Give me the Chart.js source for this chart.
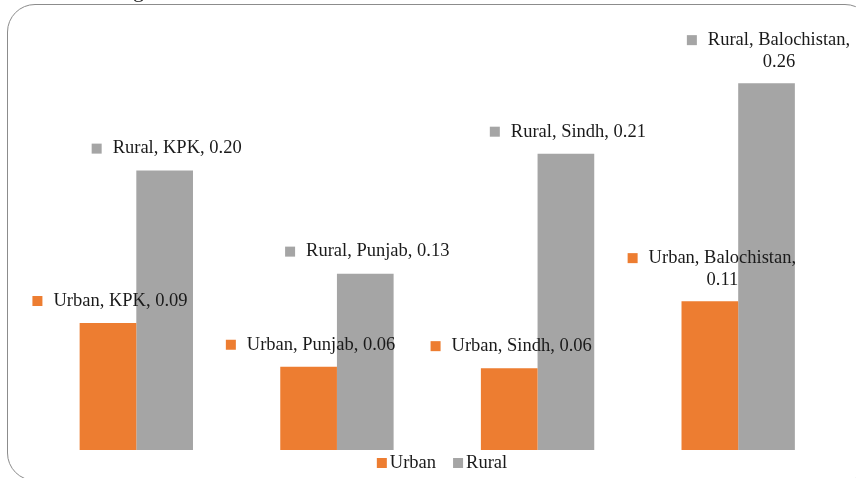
<!DOCTYPE html>
<html>
<head>
<meta charset="utf-8">
<title>Urban vs Rural by province</title>
<script src="https://cdn.jsdelivr.net/npm/chart.js@4"></script>
<style>
  html, body { margin: 0; padding: 0; background: #fff; overflow: hidden; }
  #wrap { position: relative; width: 856px; height: 478px; }
  #frame {
    position: absolute; left: 7px; top: 4px; width: 866px; height: 477px;
    box-sizing: border-box; border: 1.5px solid #8c8c8c; border-radius: 28px;
  }
  #chart { position: absolute; left: 0; top: 0; }
</style>
</head>
<body>
<div id="wrap">
  <div id="frame"></div>
  <canvas id="chart" width="856" height="478"></canvas>
</div>
<script>
// data
const provinces = ["KPK", "Punjab", "Sindh", "Balochistan"];
const urbanValues = [0.09, 0.059, 0.058, 0.1055];
const ruralValues = [0.198, 0.125, 0.21, 0.26];
const seriesNames = ["Urban", "Rural"];

const ORANGE = "#ED7D31";
const GREY = "#A5A5A5";
const FONT = '"Liberation Serif", "Times New Roman", serif';

// Excel style data labels: legend key + "series, category, value", wrap if too long
const dataLabels = {
  id: "dataLabels",
  afterDatasetsDraw(chart) {
    const ctx = chart.ctx;
    ctx.save();
    ctx.font = "18.5px " + FONT;
    ctx.textBaseline = "middle";
    chart.data.datasets.forEach((ds, di) => {
      const meta = chart.getDatasetMeta(di);
      meta.data.forEach((bar, i) => {
        const val = ds.data[i].toFixed(2);
        const full = ds.label + ", " + provinces[i] + ", " + val;
        const keySize = 10, gap = 11;
        let lines = [full];
        if (ctx.measureText(full).width > 155) {
          lines = [ds.label + ", " + provinces[i] + ",", val];
        }
        const w1 = ctx.measureText(lines[0]).width;
        const total = keySize + gap + w1;
        const left = bar.x + 2 - total / 2;
        const textLeft = left + keySize + gap;
        const y1 = lines.length > 1 ? bar.y - 43 : bar.y - 22;
        ctx.fillStyle = ds.backgroundColor;
        ctx.fillRect(left, y1 - 5, keySize, keySize);
        ctx.fillStyle = "#1a1a1a";
        ctx.textAlign = "left";
        ctx.fillText(lines[0], textLeft, y1);
        if (lines.length > 1) {
          ctx.textAlign = "center";
          ctx.fillText(lines[1], textLeft + w1 / 2, bar.y - 21);
        }
      });
    });
    ctx.restore();
  }
};

// bottom legend with tight key/text spacing
const bottomLegend = {
  id: "bottomLegend",
  afterDraw(chart) {
    const ctx = chart.ctx;
    ctx.save();
    ctx.font = "18.5px " + FONT;
    ctx.textBaseline = "middle";
    ctx.textAlign = "left";
    const items = chart.data.datasets.map((ds) => ({
      text: ds.label,
      color: ds.backgroundColor,
      w: ctx.measureText(ds.label).width,
    }));
    const box = 10, gapIn = 3, gapOut = 17;
    let width = 0;
    items.forEach((it, k) => {
      width += box + gapIn + it.w + (k ? gapOut : 0);
    });
    let x = 442 - width / 2;
    const y = 463;
    items.forEach((it) => {
      ctx.fillStyle = it.color;
      ctx.fillRect(x, y - 5, box, box);
      ctx.fillStyle = "#1a1a1a";
      ctx.fillText(it.text, x + box + gapIn, y);
      x += box + gapIn + it.w + gapOut;
    });
    // descender of the cut-off title above
    ctx.font = "22px " + FONT;
    ctx.textBaseline = "alphabetic";
    ctx.fillText("g", 133, -3);
    ctx.restore();
  }
};

new Chart(document.getElementById("chart"), {
  type: "bar",
  data: {
    labels: provinces,
    datasets: [
      {
        label: seriesNames[0],
        data: urbanValues,
        backgroundColor: ORANGE,
        borderWidth: 0,
      },
      {
        label: seriesNames[1],
        data: ruralValues,
        backgroundColor: GREY,
        borderWidth: 0,
      },
    ],
  },
  options: {
    responsive: false,
    animation: false,
    layout: { padding: { left: 36, right: 17.5, top: 26.7, bottom: 28 } },
    datasets: { bar: { categoryPercentage: 0.565, barPercentage: 1.0 } },
    scales: {
      x: { display: false },
      y: { display: false, min: 0, max: 0.3 },
    },
    plugins: {
      legend: { display: false },
      tooltip: { enabled: false },
    },
  },
  plugins: [dataLabels, bottomLegend],
});
</script>
</body>
</html>
